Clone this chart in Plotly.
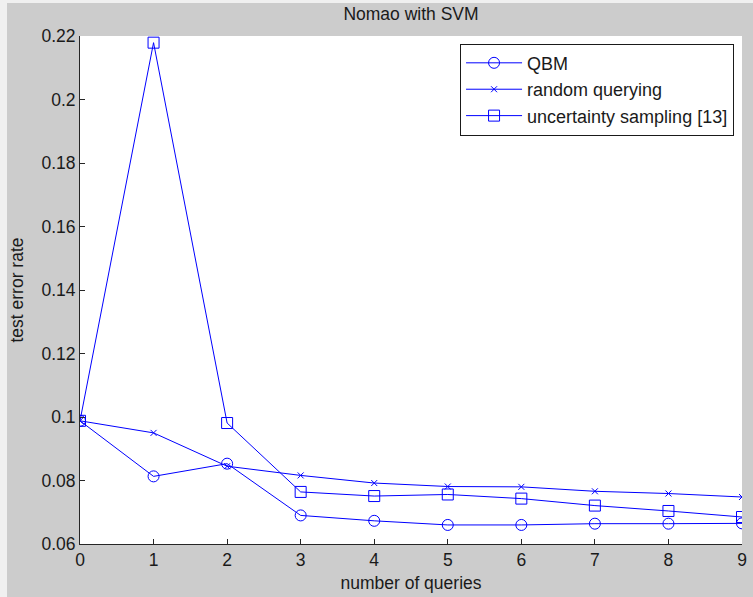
import plotly.graph_objects as go

queries = [0, 1, 2, 3, 4, 5, 6, 7, 8, 9]
qbm = [0.0988, 0.0813, 0.0853, 0.0690, 0.0673, 0.0660, 0.0660, 0.0664, 0.0664, 0.0665]
random_q = [0.0988, 0.0950, 0.0845, 0.0816, 0.0792, 0.0781, 0.0780, 0.0766, 0.0759, 0.0748]
uncertainty = [0.0988, 0.2179, 0.0981, 0.0764, 0.0751, 0.0756, 0.0743, 0.0721, 0.0704, 0.0685]

y_ticks = [0.06, 0.08, 0.10, 0.12, 0.14, 0.16, 0.18, 0.20, 0.22]
y_tick_text = ["0.06", "0.08", "0.1", "0.12", "0.14", "0.16", "0.18", "0.2", "0.22"]

FONT = "Liberation Sans, Arial, sans-serif"
FS = 17.5
BLUE = "#0000ff"
TXT = "#1a1a1a"

fig = go.Figure()
fig.add_trace(go.Scatter(x=queries, y=qbm, name="QBM", mode="lines+markers",
                         line=dict(color=BLUE, width=1),
                         marker=dict(symbol="circle-open", size=11, color=BLUE, line=dict(width=1))))
fig.add_trace(go.Scatter(x=queries, y=random_q, name="random querying", mode="lines+markers",
                         line=dict(color=BLUE, width=1),
                         marker=dict(symbol="x-thin-open", size=6, color=BLUE, line=dict(width=1))))
fig.add_trace(go.Scatter(x=queries, y=uncertainty, name="uncertainty sampling [13]", mode="lines+markers",
                         line=dict(color=BLUE, width=1),
                         marker=dict(symbol="square-open", size=11, color=BLUE, line=dict(width=1))))

fig.update_layout(
    width=753, height=597,
    margin=dict(l=80, r=11, t=36, b=53),
    paper_bgcolor="#cccccc",
    plot_bgcolor="white",
    font=dict(family=FONT, size=FS, color=TXT),
    title=dict(text="Nomao with SVM", x=(411 / 753), xanchor="center",
               y=1 - 14 / 597, yanchor="middle", yref="container",
               font=dict(family=FONT, size=FS, color=TXT)),
    showlegend=True,
    legend=dict(x=0.988, xanchor="right", y=0.985, yanchor="top",
                bgcolor="white", bordercolor=TXT, borderwidth=1,
                font=dict(family=FONT, size=18, color=TXT),
                itemwidth=56, tracegroupgap=0),
    shapes=[
        dict(type="rect", xref="paper", yref="paper", x0=-80 / 662, x1=-73 / 662,
             y0=-53 / 508, y1=580 / 508, fillcolor="#f0f0f0", line=dict(width=0), layer="below"),
        dict(type="rect", xref="paper", yref="paper", x0=-80 / 662, x1=673 / 662,
             y0=541 / 508, y1=580 / 508, fillcolor="#f0f0f0", line=dict(width=0), layer="below"),
    ],
)

fig.update_xaxes(range=[0, 9], tickvals=queries, ticks="inside", ticklen=5,
                 tickcolor="#262626", showline=True, linecolor="#262626", linewidth=1,
                 mirror=False, showgrid=False, zeroline=False, automargin=False,
                 title=dict(text="number of queries", standoff=7,
                            font=dict(family=FONT, size=FS, color=TXT)),
                 tickfont=dict(family=FONT, size=FS, color=TXT))
fig.update_yaxes(range=[0.06, 0.22], tickvals=y_ticks, ticktext=y_tick_text, ticks="inside",
                 ticklen=5, tickcolor="#262626", showline=True, linecolor="#262626", linewidth=1,
                 mirror=False, showgrid=False, zeroline=False, automargin=False,
                 title=dict(text="test error rate", standoff=13,
                            font=dict(family=FONT, size=FS, color=TXT)),
                 tickfont=dict(family=FONT, size=FS, color=TXT))

fig.write_html("out.html")
